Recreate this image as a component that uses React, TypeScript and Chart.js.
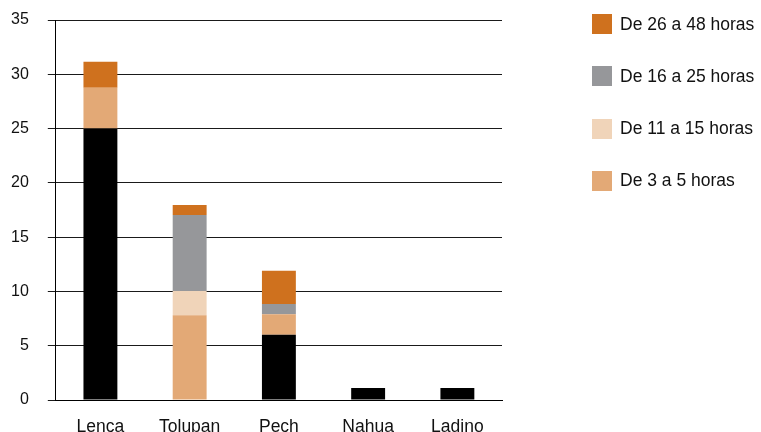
import React, { useEffect, useRef } from "react";
import { Chart, registerables } from "chart.js";

Chart.register(...registerables);

const categories = ["Lenca", "Tolupan", "Pech", "Nahua", "Ladino"];
const hidden0to2 = [25, null, 6.0, 1.1, 1.1];
const h3to5 = [3.75, 7.8, 1.9, null, null];
const h11to15 = [null, 2.25, null, null, null];
const h16to25 = [null, 7.0, 0.95, null, null];
const h26to48 = [2.4, 0.9, 3.05, null, null];
const yTicks = [0, 5, 10, 15, 20, 25, 30, 35];

const FONT = "'Liberation Sans', Arial, Helvetica, sans-serif";

const series = [
  { label: "De 0 a 2 horas", data: hidden0to2, color: "#000000", inLegend: false },
  { label: "De 3 a 5 horas", data: h3to5, color: "#E3A976", inLegend: true },
  { label: "De 11 a 15 horas", data: h11to15, color: "#F0D4B9", inLegend: true },
  { label: "De 16 a 25 horas", data: h16to25, color: "#96979A", inLegend: true },
  { label: "De 26 a 48 horas", data: h26to48, color: "#CF711E", inLegend: true },
];

export default function App() {
  const ref = useRef<HTMLCanvasElement | null>(null);

  useEffect(() => {
    if (!ref.current) return;
    const chart = new Chart(ref.current, {
      type: "bar",
      data: {
        labels: categories,
        datasets: series.map((s) => ({
          label: s.label,
          data: s.data,
          backgroundColor: s.color,
          borderWidth: 0,
          barPercentage: 0.38,
          categoryPercentage: 1,
        })),
      },
      options: {
        animation: false,
        responsive: true,
        maintainAspectRatio: false,
        layout: { padding: { top: 20, right: 259, left: -8, bottom: -21.5 } },
        plugins: { legend: { display: false }, tooltip: { enabled: true } },
        scales: {
          x: {
            stacked: true,
            grid: { display: false, drawTicks: false },
            border: { display: true, color: "#000", width: 1 },
            ticks: {
              color: "#111",
              font: { family: FONT, size: 17.5, lineHeight: 1 },
              padding: 18,
            },
          },
          y: {
            stacked: true,
            min: yTicks[0],
            max: yTicks[yTicks.length - 1],
            afterBuildTicks: (axis: any) => {
              axis.ticks = yTicks.map((v) => ({ value: v }));
            },
            afterFit: (axis: any) => {
              axis.paddingTop = 0;
              axis.paddingBottom = 0;
            },
            grid: {
              color: "#1a1a1a",
              lineWidth: 1,
              drawTicks: true,
              tickLength: 8,
              tickColor: "#1a1a1a",
            },
            border: { display: true, color: "#000", width: 1 },
            ticks: {
              color: "#111",
              font: { family: FONT, size: 16 },
              padding: 19,
            },
          },
        },
      },
    });
    return () => chart.destroy();
  }, []);

  const legendItems = series.filter((s) => s.inLegend).slice().reverse();

  return (
    <div
      style={{
        position: "fixed",
        left: 0,
        top: 0,
        width: 761,
        height: 432,
        background: "#fff",
        overflow: "hidden",
      }}
    >
      <canvas ref={ref} style={{ width: 761, height: 432 }} />
      {legendItems.map((s, i) => (
        <div
          key={s.label}
          style={{
            position: "absolute",
            left: 592,
            top: 14 + i * 52.3,
            height: 20,
            display: "flex",
            alignItems: "center",
            fontFamily: FONT,
            fontSize: 17.5,
            color: "#111",
            whiteSpace: "nowrap",
          }}
        >
          <span
            style={{
              display: "inline-block",
              width: 20,
              height: 20,
              background: s.color,
              marginRight: 8,
            }}
          />
          <span>{s.label}</span>
        </div>
      ))}
    </div>
  );
}
